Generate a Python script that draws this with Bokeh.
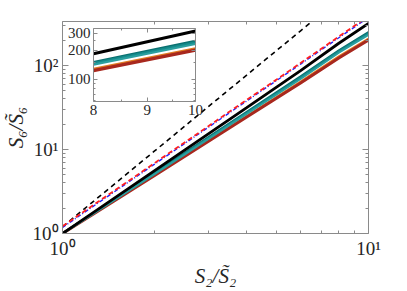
from bokeh.plotting import figure
from bokeh.models import FixedTicker, LogAxis, Range1d
from bokeh.embed import file_html
from bokeh.resources import INLINE

# ---- data ----
x_vals = [1, 2, 4, 6, 8, 10]
black_solid = [1.0, 5.6, 31.5, 87, 184, 316]
teal_light = [1.0, 5.1, 26.5, 69, 142, 232]
teal_mid = [1.0, 5.2, 27.2, 71.5, 147, 241]
teal_dark = [1.0, 5.3, 28.0, 74, 151, 250]
orange_line = [1.0, 5.0, 25.0, 64, 128, 209]
brown_line = [1.0, 4.9, 24.3, 62, 123, 201]
red_dashed = [1.22, 6.9, 39, 107, 221, 386]
blue_dashdot = [1.18, 6.7, 37.8, 104, 214, 373]
black_dashed = [1.2, 9.6, 77, 259, 614, 1200]

x_major = [1, 10]
x_minor = [2, 3, 4, 5, 6, 7, 8, 9]
y_major = [1, 10, 100]
y_minor = [2, 3, 4, 5, 6, 7, 8, 9, 20, 30, 40, 50, 60, 70, 80, 90, 200, 300]
x_labels = {1: "10\u2070", 10: "10\u00b9"}
y_labels = {1: "10\u2070", 10: "10\u00b9", 100: "10\u00b2"}

ix_major = [8, 9, 10]
ix_minor = [8.5, 9.5]
iy_major = [100, 200, 300]
iy_minor = [60, 70, 80, 90, 150, 250]

FONT = "Liberation Serif"
AX = "#8a8a8a"
TXT = "#262626"

C_TEAL_L = "#2a9f9f"
C_TEAL_M = "#158a8a"
C_TEAL_D = "#0a7070"
C_ORANGE = "#e07a20"
C_BROWN = "#a8281e"
C_RED = "#ff2020"
C_BLUE = "#2020ff"


def style_axis(ax, label_size, show_labels=True, ticks=None):
    ax.axis_line_color = AX
    ax.major_tick_line_color = AX
    ax.minor_tick_line_color = AX
    ax.major_tick_in = 6
    ax.major_tick_out = 0
    ax.minor_tick_in = 3
    ax.minor_tick_out = 0
    ax.major_label_text_font = FONT
    ax.major_label_text_color = TXT
    if show_labels:
        ax.major_label_text_font_size = label_size
        ax.major_label_standoff = 5
    else:
        ax.major_label_text_font_size = "1px"
        ax.major_label_standoff = 0
        ax.major_label_overrides = {t: "" for t in ticks}


# ---- main plot ----
p = figure(frame_width=306, frame_height=212,
           x_axis_type="log", y_axis_type="log",
           x_range=Range1d(1, 10), y_range=Range1d(1, 334),
           output_backend="svg", toolbar_location=None,
           min_border_left=62, min_border_right=39,
           min_border_top=21, min_border_bottom=58,
           background_fill_color="white", border_fill_color="white")
p.outline_line_color = None
p.grid.visible = False

p.xaxis.ticker = FixedTicker(ticks=x_major, minor_ticks=x_minor)
p.yaxis.ticker = FixedTicker(ticks=y_major, minor_ticks=y_minor)
p.xaxis.major_label_overrides = x_labels
p.yaxis.major_label_overrides = y_labels
for ax in p.xaxis + p.yaxis:
    style_axis(ax, "19px")
    ax.major_label_standoff = 4

p.xaxis.axis_label = "S\u2082/S\u0303\u2082"
p.yaxis.axis_label = "S\u2086/S\u0303\u2086"
for ax in p.xaxis + p.yaxis:
    ax.axis_label_text_font = FONT
    ax.axis_label_text_font_size = "21px"
    ax.axis_label_text_font_style = "italic"
    ax.axis_label_text_color = TXT
    ax.axis_label_standoff = 2

top_ax = LogAxis(ticker=FixedTicker(ticks=x_major, minor_ticks=x_minor))
right_ax = LogAxis(ticker=FixedTicker(ticks=y_major, minor_ticks=y_minor))
style_axis(top_ax, None, show_labels=False, ticks=x_major)
style_axis(right_ax, None, show_labels=False, ticks=y_major)
p.add_layout(top_ax, "above")
p.add_layout(right_ax, "right")


def draw_solid(fig, w):
    fig.line(x_vals, orange_line, line_color=C_ORANGE, line_width=2.2 * w)
    fig.line(x_vals, brown_line, line_color=C_BROWN, line_width=3.0 * w)
    fig.line(x_vals, teal_dark, line_color=C_TEAL_D, line_width=2.2 * w)
    fig.line(x_vals, teal_mid, line_color=C_TEAL_M, line_width=2.2 * w)
    fig.line(x_vals, teal_light, line_color=C_TEAL_L, line_width=2.0 * w)
    fig.line(x_vals, black_solid, line_color="black", line_width=2.8 * w)


p.line(x_vals, black_dashed, line_color="black", line_width=1.6, line_dash="5 4")
draw_solid(p, 1.0)
p.line(x_vals, blue_dashdot, line_color=C_BLUE, line_width=1.4, line_dash="4 2 1 2")
p.line(x_vals, red_dashed, line_color=C_RED, line_width=1.8, line_dash="5 3")

# ---- inset (absolutely placed over the main plot) ----
ins = figure(frame_width=102, frame_height=73,
             x_axis_type="log", y_axis_type="log",
             x_range=Range1d(8, 10), y_range=Range1d(59, 336),
             output_backend="svg", toolbar_location=None,
             min_border_left=70, min_border_right=8,
             min_border_top=4, min_border_bottom=22,
             background_fill_color=None, border_fill_color=None,
             styles={"position": "absolute", "left": "23px", "top": "24px"})
ins.outline_line_color = None
ins.grid.visible = False
ins.xaxis.ticker = FixedTicker(ticks=ix_major, minor_ticks=ix_minor)
ins.yaxis.ticker = FixedTicker(ticks=iy_major, minor_ticks=iy_minor)
ins.xaxis.major_label_overrides = {8: "8", 9: "9", 10: "10"}
ins.yaxis.major_label_overrides = {100: "100", 200: "200", 300: "300"}
for ax in ins.xaxis + ins.yaxis:
    style_axis(ax, "15px")
    ax.major_tick_in = 4
    ax.minor_tick_in = 2
    ax.major_label_standoff = 3
    ax.axis_label = None
i_top = LogAxis(ticker=FixedTicker(ticks=ix_major, minor_ticks=ix_minor))
i_right = LogAxis(ticker=FixedTicker(ticks=iy_major, minor_ticks=iy_minor))
style_axis(i_top, None, show_labels=False, ticks=ix_major)
style_axis(i_right, None, show_labels=False, ticks=iy_major)
for ax in (i_top, i_right):
    ax.major_tick_in = 4
    ax.minor_tick_in = 2
ins.add_layout(i_top, "above")
ins.add_layout(i_right, "right")

draw_solid(ins, 1.1)

open("out.html", "w").write(file_html([p, ins], INLINE))
